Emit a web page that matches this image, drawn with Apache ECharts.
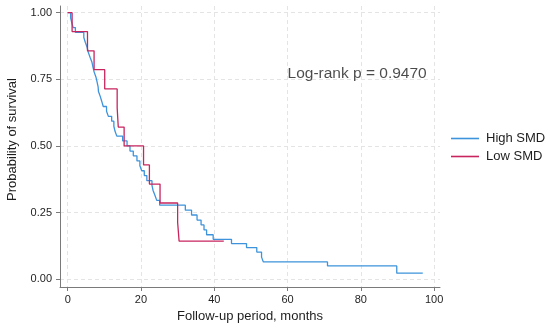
<!DOCTYPE html>
<html><head><meta charset="utf-8">
<script src="https://cdn.jsdelivr.net/npm/echarts@6/dist/echarts.min.js"></script>
<style>html,body{margin:0;padding:0;background:#fff}#c{width:550px;height:329px}</style>
</head><body><div id="c"></div>
<script>
const xTicks = [0, 20, 40, 60, 80, 100];
const yTicks = [0, 0.25, 0.5, 0.75, 1];
const seriesNames = ['High SMD', 'Low SMD'];
const highTimes = [0, 0.8, 1.1, 1.5, 2.1, 4.4, 4.8, 5.3, 5.6, 6.1, 6.6, 6.9, 7.2, 7.7, 8.0, 8.3, 8.4, 8.9, 9.3, 9.7, 10.6, 11.1, 12.0, 12.6, 12.9, 13.4, 15.0, 16.2, 17.0, 17.9, 18.9, 19.7, 20.2, 20.9, 21.6, 23.0, 23.3, 23.8, 24.3, 25.1, 32.1, 33.8, 35.3, 36.4, 37.2, 37.9, 39.7, 44.7, 48.8, 51.6, 52.9, 53.4, 70.9, 89.8, 96.9];
const highSurv = [1, 0.981, 0.963, 0.944, 0.926, 0.907, 0.889, 0.870, 0.852, 0.833, 0.815, 0.796, 0.778, 0.759, 0.741, 0.722, 0.704, 0.685, 0.667, 0.648, 0.630, 0.611, 0.593, 0.574, 0.556, 0.537, 0.519, 0.500, 0.481, 0.463, 0.444, 0.426, 0.407, 0.389, 0.370, 0.352, 0.333, 0.315, 0.296, 0.278, 0.259, 0.241, 0.222, 0.204, 0.185, 0.167, 0.150, 0.134, 0.119, 0.102, 0.083, 0.065, 0.050, 0.023, 0.023];
const lowTimes = [0, 1.2, 5.4, 7.2, 10.1, 13.5, 13.8, 15.4, 20.7, 22.3, 25.2, 30.0, 30.4, 42.6];
const lowSurv = [1, 0.929, 0.857, 0.786, 0.714, 0.643, 0.571, 0.500, 0.429, 0.357, 0.286, 0.214, 0.143, 0.143];
const annotation = 'Log-rank p = 0.9470';
const annotationAt = [60, 0.772];

const FONT = '"Liberation Sans", Arial, Helvetica, sans-serif';
const TXT = '#1e1e1e';
const zip = (a, b) => a.map((v, i) => [v, b[i]]);

const chart = echarts.init(document.getElementById('c'), null, {renderer: 'canvas'});
chart.setOption({
  animation: false,
  backgroundColor: '#fff',
  textStyle: {fontFamily: FONT, color: TXT},
  grid: {left: 60, right: 110, top: 6, bottom: 42, containLabel: false, outerBoundsMode: 'none'},
  legend: {
    orient: 'vertical', left: 446, top: 127, icon: 'rect',
    itemWidth: 28, itemHeight: 1.6, itemGap: 5,
    data: seriesNames,
    textStyle: {fontSize: 13, color: TXT, fontFamily: FONT, padding: [0, 0, 0, 2]}
  },
  xAxis: {
    type: 'value', min: -2.1, max: 101.6,
    name: 'Follow-up period, months', nameLocation: 'middle', nameGap: 21,
    nameTextStyle: {fontSize: 13, color: TXT, fontFamily: FONT},
    axisLine: {show: true, onZero: false, lineStyle: {color: '#7a7a7a', width: 1}},
    axisTick: {show: true, customValues: xTicks, length: 4, lineStyle: {color: '#7a7a7a'}},
    axisLabel: {customValues: xTicks, fontSize: 11, margin: 7, color: TXT, fontFamily: FONT},
    splitLine: {show: true, lineStyle: {color: '#e4e4e4', type: [4, 3], width: 1}}
  },
  yAxis: {
    type: 'value', min: -0.029, max: 1.025,
    name: 'Probability of survival', nameLocation: 'middle', nameGap: 41,
    nameTextStyle: {fontSize: 13, color: TXT, fontFamily: FONT, padding: [0, 0, 0, 14]},
    axisLine: {show: true, onZero: false, lineStyle: {color: '#7a7a7a', width: 1}},
    axisTick: {show: true, customValues: yTicks, length: 4, lineStyle: {color: '#7a7a7a'}},
    axisLabel: {customValues: yTicks, fontSize: 11, margin: 8, color: TXT, fontFamily: FONT,
      formatter: v => v.toFixed(2)},
    splitLine: {show: true, lineStyle: {color: '#e4e4e4', type: [4, 3], width: 1}}
  },
  series: [
    {name: seriesNames[0], type: 'line', step: 'end', showSymbol: false, symbol: 'none',
      data: zip(highTimes, highSurv), lineStyle: {color: '#3d93dc', width: 1.3}, itemStyle: {color: '#3d93dc'}},
    {name: seriesNames[1], type: 'line', step: 'end', showSymbol: false, symbol: 'none',
      data: zip(lowTimes, lowSurv), lineStyle: {color: '#c8245e', width: 1.3}, itemStyle: {color: '#c8245e'}},
    {name: 'annot', type: 'scatter', symbolSize: 0, silent: true, data: [annotationAt],
      label: {show: true, position: 'right', distance: 0, formatter: annotation,
        fontSize: 15.5, color: TXT, fontFamily: FONT}}
  ]
});
</script></body></html>
